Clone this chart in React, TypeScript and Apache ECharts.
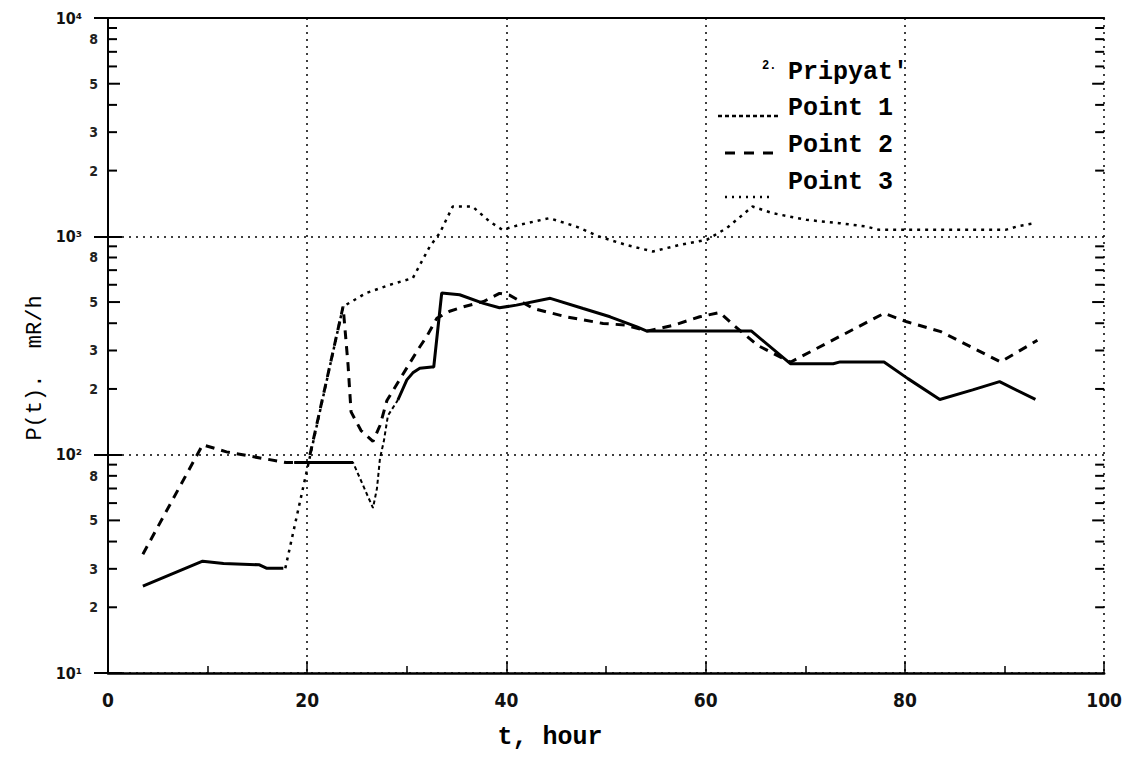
import React, { useEffect, useRef } from "react";
import * as echarts from "echarts";

// ---- axis / tick data ----
const xLabelValues = [0, 20, 40, 60, 80, 100];
const decadeLabels = ["10¹", "10²", "10³", "10⁴"];
const decadeValues = [10, 100, 1000, 10000];
const minorMultipliers = [2, 3, 4, 5, 6, 7, 8, 9];
const minorLabelDigits = [2, 3, 5, 8];

// ---- series data (t in hours, P in mR/h); null = gap ----
const pripyatT = [3.5, 9.5, 11.6, 15.2, 15.9, 17.6, 18.1, 18.7, 24.6, 26.5, 29.1, 30.0, 30.6, 31.3, 32.5, 32.7, 33.5, 35.3, 37.7, 39.3, 41.0, 44.4, 47.7, 50.4, 53.1, 54.1, 64.6, 68.5, 72.8, 73.5, 77.9, 80.3, 83.5, 86.8, 89.5, 93.1];
const pripyatP = [25, 32.5, 31.7, 31.3, 30.2, 30.2, null, 92, 92, null, 178, 220, 237, 249, 252, 252, 550, 540, 493, 471, 484, 520, 467, 428, 385, 368, 368, 261, 261, 266, 266, 223, 179, 198, 216, 179];

const point1T = [18.7, 24.6, 26.6, 27.0, 27.3, 27.7, 28.1, 29.1];
const point1P = [92, 92, 57, 70, 96, 116, 151, 178];

const point2T = [3.5, 9.5, 11.9, 14.5, 17.9, 20.1, 23.6, 24.1, 24.4, 25.4, 26.6, 27.3, 28.0, 31.1, 32.0, 33.0, 34.3, 35.7, 37.7, 39.3, 40.3, 42.7, 46.0, 49.7, 52.0, 54.1, 56.8, 59.4, 61.4, 62.8, 65.2, 68.5, 77.9, 80.2, 83.6, 89.6, 93.3];
const point2P = [35, 111, 103, 98, 92, 92, 477, 257, 157, 129, 115, 136, 177, 302, 348, 421, 454, 476, 503, 548, 538, 467, 428, 399, 392, 368, 392, 428, 448, 392, 317, 265, 444, 406, 366, 266, 334];

const point3T = [17.8, 23.6, 25.9, 28.3, 30.6, 32.3, 33.3, 34.6, 36.6, 38.3, 39.6, 41.3, 44.3, 47.0, 49.3, 52.0, 54.7, 57.4, 60.1, 62.1, 64.7, 66.7, 70.1, 73.4, 76.1, 77.4, 90.1, 91.5, 93.1];
const point3P = [30.2, 477, 549, 600, 644, 898, 1034, 1369, 1369, 1169, 1071, 1129, 1211, 1109, 998, 914, 852, 914, 964, 1090, 1369, 1277, 1190, 1149, 1109, 1071, 1071, 1117, 1149];

const seriesNames = ["Pripyat'", "Point 1", "Point 2", "Point 3"];

const toPairs = (t: number[], p: (number | null)[]) =>
  t.map((x, i) => [x, p[i] == null ? "-" : p[i]]);

const MONO = "'Liberation Mono', 'DejaVu Sans Mono', monospace";
const NARROW = "'Liberation Sans Narrow', 'DejaVu Sans Condensed', 'Liberation Sans', sans-serif";

export default function App() {
  const ref = useRef<HTMLDivElement>(null);

  useEffect(() => {
    if (!ref.current) return;
    const chart = echarts.init(ref.current, undefined, { renderer: "svg" });

    const minorTicks: number[][] = [];
    for (const d of decadeValues.slice(0, 3)) {
      for (const m of minorMultipliers) minorTicks.push([50, d * m, m]);
    }

    const option: any = {
      animation: false,
      backgroundColor: "#fff",
      grid: { left: 108, right: 20, top: 18, bottom: 109, containLabel: false },
      xAxis: [
        {
          type: "value",
          min: 0,
          max: 100,
          interval: 20,
          axisLine: { show: true, onZero: false, lineStyle: { color: "#000", width: 2.5 } },
          axisTick: { show: true, inside: true, length: 12, lineStyle: { color: "#000", width: 1.5 } },
          minorTick: { show: true, splitNumber: 2, length: 7, lineStyle: { color: "#000", width: 1.5 } },
          axisLabel: {
            margin: 17,
            color: "#111",
            fontFamily: NARROW,
            fontWeight: "bold",
            fontSize: 19,
            formatter: (v: number) => (xLabelValues.includes(v) ? String(v) : ""),
          },
          splitLine: { show: true, lineStyle: { color: "#000", type: [2, 5], width: 1.5 } },
        },
        {
          type: "value",
          position: "top",
          min: 0,
          max: 100,
          axisLine: { show: true, lineStyle: { color: "#000", width: 2 } },
          axisTick: { show: false },
          axisLabel: { show: false },
          splitLine: { show: false },
        },
      ],
      yAxis: [
        {
          type: "log",
          logBase: 10,
          min: 10,
          max: 10000,
          axisLine: { show: true, onZero: false, lineStyle: { color: "#000", width: 2 } },
          axisTick: { show: true, inside: true, length: 14, lineStyle: { color: "#000", width: 2 } },
          axisLabel: {
            margin: 26,
            color: "#111",
            fontFamily: NARROW,
            fontWeight: "bold",
            fontSize: 16,
            formatter: (v: number) => {
              const i = Math.round(Math.log10(v)) - 1;
              return decadeLabels[i] ?? "";
            },
          },
          splitLine: { show: true, lineStyle: { color: "#000", type: [2, 5], width: 1.5 } },
        },
        {
          type: "log",
          logBase: 10,
          min: 10,
          max: 10000,
          position: "right",
          axisLine: { show: true, lineStyle: { color: "#000", width: 2, type: [10, 4] } },
          axisTick: { show: true, inside: true, length: 14, lineStyle: { color: "#000", width: 2 } },
          axisLabel: { show: false },
          splitLine: { show: false },
        },
      ],
      series: [
        {
          name: "minor ticks",
          type: "custom",
          silent: true,
          data: minorTicks,
          encode: { x: 0, y: 1 },
          z: 3,
          renderItem: (params: any, api: any) => {
            const v = api.value(1);
            const m = api.value(2);
            const pl = api.coord([0, v]);
            const pr = api.coord([100, v]);
            const len = m === 5 ? 12 : 9;
            const children: any[] = [
              { type: "line", shape: { x1: pl[0], y1: pl[1], x2: pl[0] + len, y2: pl[1] }, style: { stroke: "#000", lineWidth: 2 } },
              { type: "line", shape: { x1: pr[0] - len, y1: pr[1], x2: pr[0], y2: pr[1] }, style: { stroke: "#000", lineWidth: 2 } },
            ];
            if (minorLabelDigits.includes(m)) {
              children.push({
                type: "text",
                style: {
                  text: String(m),
                  x: pl[0] - 10,
                  y: pl[1],
                  align: "right",
                  verticalAlign: "middle",
                  fill: "#222",
                  font: `bold 14px ${NARROW}`,
                },
              });
            }
            return { type: "group", children };
          },
        },
        {
          name: seriesNames[3],
          type: "line",
          data: toPairs(point3T, point3P),
          showSymbol: false,
          connectNulls: false,
          lineStyle: { color: "#000", width: 2.5, type: [3, 5] },
          z: 4,
        },
        {
          name: seriesNames[1],
          type: "line",
          data: toPairs(point1T, point1P),
          showSymbol: false,
          lineStyle: { color: "#000", width: 2, type: [4, 3] },
          z: 4,
        },
        {
          name: seriesNames[2],
          type: "line",
          data: toPairs(point2T, point2P),
          showSymbol: false,
          lineStyle: { color: "#000", width: 3, type: [9, 7] },
          z: 5,
        },
        {
          name: seriesNames[0],
          type: "line",
          data: toPairs(pripyatT, pripyatP),
          showSymbol: false,
          connectNulls: false,
          lineStyle: { color: "#000", width: 3, type: "solid" },
          z: 6,
        },
      ],
      graphic: [
        {
          type: "text",
          x: 35,
          y: 368,
          rotation: Math.PI / 2,
          style: { text: "P(t).  mR/h", font: `22px ${MONO}`, fill: "#000", align: "center", verticalAlign: "middle" },
        },
        {
          type: "text",
          x: 550,
          y: 737,
          style: { text: "t, hour", font: `bold 25px ${MONO}`, fill: "#000", align: "center", verticalAlign: "middle" },
        },
        // legend
        { type: "text", x: 762, y: 66, style: { text: "2.", font: `bold 12px ${MONO}`, fill: "#000", align: "left", verticalAlign: "middle" } },
        { type: "text", x: 788, y: 72, style: { text: seriesNames[0], font: `bold 25px ${MONO}`, fill: "#000", align: "left", verticalAlign: "middle" } },
        { type: "line", shape: { x1: 718, y1: 116, x2: 780, y2: 116 }, style: { stroke: "#000", lineWidth: 2.5, lineDash: [4, 3] } },
        { type: "text", x: 788, y: 108, style: { text: seriesNames[1], font: `bold 25px ${MONO}`, fill: "#000", align: "left", verticalAlign: "middle" } },
        { type: "line", shape: { x1: 725, y1: 153, x2: 780, y2: 153 }, style: { stroke: "#000", lineWidth: 3, lineDash: [10, 9] } },
        { type: "text", x: 788, y: 145, style: { text: seriesNames[2], font: `bold 25px ${MONO}`, fill: "#000", align: "left", verticalAlign: "middle" } },
        { type: "line", shape: { x1: 725, y1: 197, x2: 772, y2: 197 }, style: { stroke: "#000", lineWidth: 2.5, lineDash: [2, 5] } },
        { type: "text", x: 788, y: 182, style: { text: seriesNames[3], font: `bold 25px ${MONO}`, fill: "#000", align: "left", verticalAlign: "middle" } },
      ],
    };

    chart.setOption(option);
    return () => chart.dispose();
  }, []);

  return (
    <div
      ref={ref}
      style={{ position: "fixed", left: 0, top: 0, width: 1125, height: 782, background: "#fff" }}
    />
  );
}
